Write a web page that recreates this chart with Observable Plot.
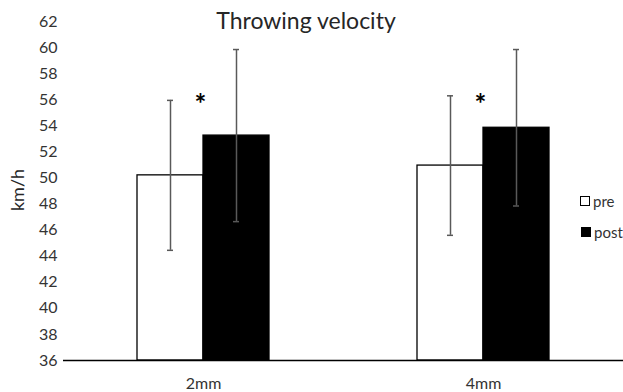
<!DOCTYPE html>
<html>
<head>
<meta charset="utf-8">
<script src="https://cdn.jsdelivr.net/npm/d3@7"></script>
<script src="https://cdn.jsdelivr.net/npm/@observablehq/plot@0.6"></script>
<style>
  body { margin: 0; background: #fff; }
  #wrap { position: relative; width: 623px; height: 392px; font-family: Lato, "Open Sans", sans-serif; color: #333; }
  .title { position: absolute; left: 0; width: 612px; top: 7px; text-align: center; font-size: 23px; line-height: 26px; color: #262626; }
  .ylab { position: absolute; left: 17px; top: 190px; transform: translate(-50%, -50%) rotate(-90deg); font-size: 18px; white-space: nowrap; color: #262626; }
  .leg { position: absolute; height: 18px; display: flex; align-items: center; font-size: 15px; }
  .sw { display: inline-block; width: 8px; height: 8px; border: 1.5px solid #000; margin-right: 3px; }
</style>
</head>
<body>
<div id="wrap">
  <div id="chart"></div>
  <div class="title">Throwing velocity</div>
  <div class="ylab">km/h</div>
  <div class="leg" style="left:580px;top:192px"><span class="sw" style="background:#fff"></span>pre</div>
  <div class="leg" style="left:581px;top:223px"><span class="sw" style="background:#000"></span>post</div>
</div>
<script>
const groups = ["2mm", "4mm"];
const phases = ["pre", "post"];
const preMean = [50.2, 50.95];
const postMean = [53.25, 53.85];
const preSD = [5.75, 5.35];
const postSD = [6.6, 6.0];
const yTicks = [36, 38, 40, 42, 44, 46, 48, 50, 52, 54, 56, 58, 60, 62];
const sigGroups = ["2mm", "4mm"];

const data = groups.flatMap((g, i) => [
  {group: g, phase: "pre", mean: preMean[i], sd: preSD[i]},
  {group: g, phase: "post", mean: postMean[i], sd: postSD[i]}
]);

const chart = Plot.plot({
  width: 623,
  height: 392,
  marginLeft: 63,
  marginRight: 0,
  marginTop: 21,
  marginBottom: 32,
  style: {fontFamily: "Lato, 'Open Sans', sans-serif", fontSize: "16px", color: "#333", background: "transparent"},
  fx: {domain: groups, padding: 0, label: null, axis: "bottom", tickSize: 0, tickPadding: 17},
  x: {domain: phases, paddingInner: 0, paddingOuter: 1.09, axis: null},
  y: {domain: [36, 62], ticks: yTicks, tickSize: 0, tickPadding: 6, label: null},
  color: {domain: phases, range: ["#ffffff", "#000000"]},
  marks: [
    Plot.barY(data, {fx: "group", x: "phase", y1: 36, y2: "mean", fill: "phase", stroke: "#000", strokeWidth: 1.3}),
    Plot.ruleX(data, {fx: "group", x: "phase", y1: d => d.mean - d.sd, y2: d => d.mean + d.sd, stroke: "#595959", strokeWidth: 1.5}),
    Plot.tickY(data, {fx: "group", x: "phase", y: d => d.mean + d.sd, insetLeft: 30, insetRight: 30, stroke: "#595959", strokeWidth: 1.5}),
    Plot.tickY(data, {fx: "group", x: "phase", y: d => d.mean - d.sd, insetLeft: 30, insetRight: 30, stroke: "#595959", strokeWidth: 1.5}),
    Plot.ruleY([36], {stroke: "#000", strokeWidth: 1.5}),
    Plot.text(sigGroups, {fx: d => d, y: 56, text: () => "*", fontSize: 28, fontWeight: "bold", fill: "#000", dx: -3, dy: 5})
  ]
});
document.getElementById("chart").appendChild(chart);
</script>
</body>
</html>
